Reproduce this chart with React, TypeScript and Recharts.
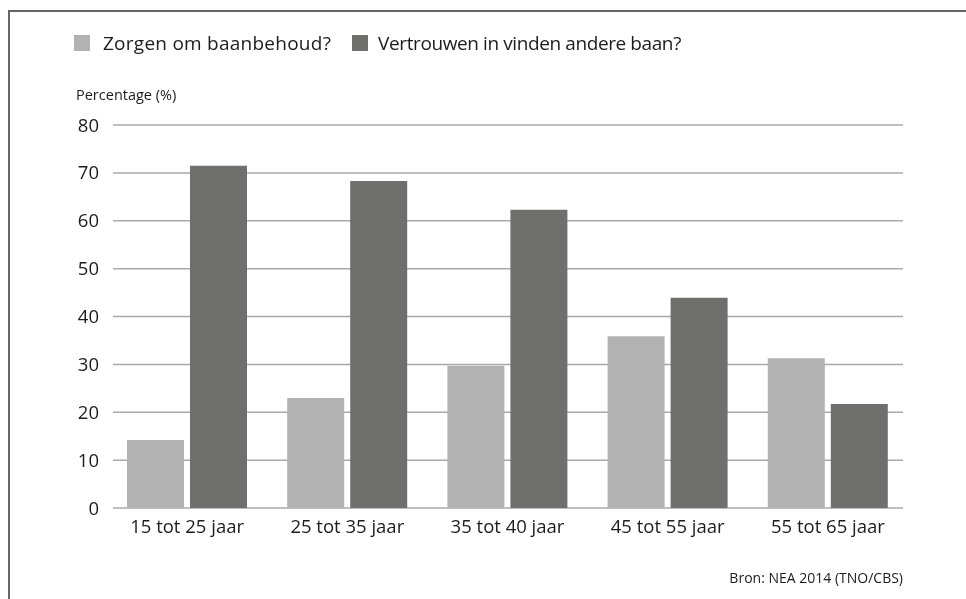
import React from 'react';
import { BarChart, Bar, XAxis, YAxis, CartesianGrid } from 'recharts';

const categories = ['15 tot 25 jaar', '25 tot 35 jaar', '35 tot 40 jaar', '45 tot 55 jaar', '55 tot 65 jaar'];
const zorgen = [14.2, 23.0, 29.7, 35.9, 31.3];
const vertrouwen = [71.5, 68.3, 62.3, 43.9, 21.7];
const seriesNames = ['Zorgen om baanbehoud?', 'Vertrouwen in vinden andere baan?'];
const yTicks = [0, 10, 20, 30, 40, 50, 60, 70, 80];

const data = categories.map((name, i) => ({ name, zorgen: zorgen[i], vertrouwen: vertrouwen[i] }));

const FONT = '"Open Sans", "Noto Sans", sans-serif';
const TEXT = '#1e1b1c';
const LIGHT = '#b2b2b2';
const DARK = '#6f6f6e';

// grid lines are a bit shorter than the category bands
const gridLine = (props: any) => (
  <line
    key={`grid-${props.y1}`}
    x1={105}
    x2={895}
    y1={props.y1}
    y2={props.y2}
    stroke="#a9a9a9"
    strokeWidth={1.5}
  />
);

const App: React.FC = () => {
  return (
    <div style={{ position: 'relative', width: 958, height: 583, overflow: 'hidden', fontFamily: FONT, color: TEXT }}>
      <div
        style={{
          position: 'fixed',
          left: 8,
          top: 10,
          width: 1000,
          height: 1000,
          borderLeft: '2px solid #666',
          borderTop: '2px solid #666',
        }}
      />
      <div style={{ position: 'absolute', left: 66, top: 22, display: 'flex', alignItems: 'center', fontSize: 19 }}>
        <span style={{ width: 16, height: 16, background: LIGHT, display: 'inline-block', marginRight: 13 }} />
        <span style={{ marginRight: 21, letterSpacing: 0.25 }}>{seriesNames[0]}</span>
        <span style={{ width: 16, height: 16, background: DARK, display: 'inline-block', marginRight: 10 }} />
        <span style={{ letterSpacing: -0.4 }}>{seriesNames[1]}</span>
      </div>
      <div style={{ position: 'absolute', left: 68, top: 77, fontSize: 14.5 }}>Percentage (%)</div>
      <div style={{ position: 'absolute', right: 63, top: 560, fontSize: 14 }}>Bron: NEA 2014 (TNO/CBS)</div>
      <div style={{ position: 'absolute', left: 0, top: 0 }}>
        <BarChart
          width={958}
          height={583}
          data={data}
          margin={{ top: 117, right: 58, bottom: 53, left: 59 }}
          barCategoryGap={20}
          barGap={6}
        >
          <CartesianGrid vertical={false} horizontal={gridLine} />
          <XAxis
            dataKey="name"
            height={30}
            axisLine={false}
            tickLine={false}
            tickSize={0}
            tickMargin={12}
            tick={{ fill: TEXT, fontSize: 18.5, fontFamily: FONT }}
            interval={0}
          />
          <YAxis
            width={40}
            domain={[0, 80]}
            ticks={yTicks}
            axisLine={false}
            tickLine={false}
            tickSize={0}
            tickMargin={8}
            tick={{ fill: TEXT, fontSize: 18.5, fontFamily: FONT }}
          />
          <Bar dataKey="zorgen" name={seriesNames[0]} fill={LIGHT} isAnimationActive={false} />
          <Bar dataKey="vertrouwen" name={seriesNames[1]} fill={DARK} isAnimationActive={false} />
        </BarChart>
      </div>
    </div>
  );
};

export default App;
